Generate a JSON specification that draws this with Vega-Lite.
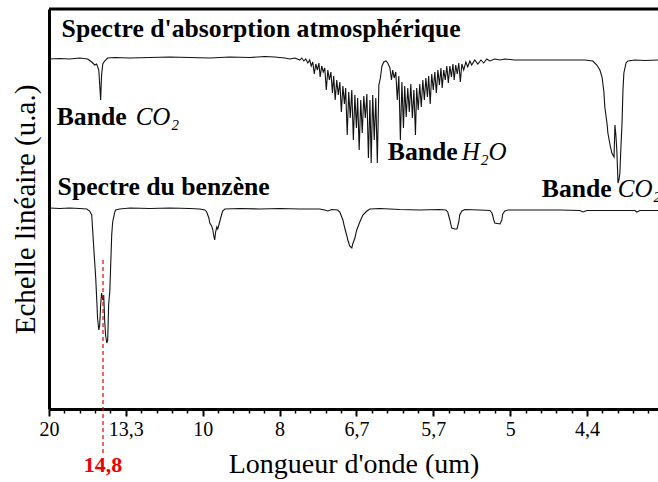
{
  "$schema": "https://vega.github.io/schema/vega-lite/v6.json",
  "width": 609,
  "height": 400,
  "autosize": {"type": "none"},
  "padding": {"left": 49, "top": 9, "right": 0, "bottom": 73},
  "background": "white",
  "config": {"view": {"stroke": null}, "font": "Liberation Serif, Times New Roman, serif"},
  "datasets": {
    "atm": [
      {"wn":502,"val":350},{"wn":535,"val":350.5},{"wn":567,"val":350},{"wn":600,"val":351},{"wn":626,"val":350},{"wn":639,"val":347},{"wn":649,"val":344},{"wn":655,"val":345},{"wn":662,"val":339},{"wn":665,"val":324},{"wn":668,"val":309},{"wn":671,"val":334},{"wn":675,"val":345},{"wn":681,"val":348},{"wn":691,"val":351},{"wn":714,"val":351.5},{"wn":763,"val":351},{"wn":828,"val":351.5},{"wn":893,"val":352},{"wn":958,"val":351.5},{"wn":1023,"val":351},{"wn":1088,"val":352},{"wn":1153,"val":351.5},{"wn":1202,"val":352.5},{"wn":1234,"val":352},{"wn":1267,"val":351},{"wn":1283,"val":350},{"wn":1300,"val":351},
      {"wn":1316,"val":349},{"wn":1322,"val":351},{"wn":1329,"val":348},{"wn":1335,"val":350},{"wn":1342,"val":346},{"wn":1348,"val":349},{"wn":1353,"val":343},{"wn":1358,"val":347},{"wn":1363,"val":335},{"wn":1368,"val":345},{"wn":1373,"val":339},{"wn":1378,"val":346},{"wn":1382,"val":332},{"wn":1387,"val":343},{"wn":1392,"val":337},{"wn":1397,"val":341},{"wn":1402,"val":319},{"wn":1407,"val":339},{"wn":1412,"val":329},{"wn":1417,"val":337},{"wn":1422,"val":316},{"wn":1426,"val":333},{"wn":1431,"val":309},{"wn":1436,"val":329},{"wn":1441,"val":314},{"wn":1446,"val":327},{"wn":1451,"val":297},{"wn":1456,"val":323},{"wn":1461,"val":305},{"wn":1465,"val":321},{"wn":1470,"val":274},{"wn":1475,"val":317},{"wn":1480,"val":291},{"wn":1485,"val":319},{"wn":1490,"val":269},{"wn":1495,"val":314},{"wn":1500,"val":281},{"wn":1504,"val":311},{"wn":1509,"val":259},{"wn":1514,"val":309},{"wn":1519,"val":276},{"wn":1524,"val":313},{"wn":1529,"val":291},{"wn":1534,"val":315},{"wn":1539,"val":251},{"wn":1544,"val":309},{"wn":1548,"val":246},{"wn":1553,"val":314},{"wn":1558,"val":269},{"wn":1563,"val":311},{"wn":1568,"val":246},{"wn":1573,"val":324},{"wn":1578,"val":331},{"wn":1583,"val":343},{"wn":1589,"val":347},{"wn":1596,"val":348},{"wn":1602,"val":346},{"wn":1609,"val":341},{"wn":1614,"val":329},{"wn":1618,"val":339},{"wn":1623,"val":331},{"wn":1628,"val":337},{"wn":1633,"val":309},{"wn":1638,"val":333},{"wn":1643,"val":269},{"wn":1648,"val":327},{"wn":1653,"val":281},{"wn":1657,"val":323},{"wn":1662,"val":292},{"wn":1667,"val":321},{"wn":1672,"val":297},{"wn":1677,"val":325},{"wn":1682,"val":291},{"wn":1687,"val":319},{"wn":1692,"val":274},{"wn":1696,"val":321},{"wn":1701,"val":299},{"wn":1706,"val":325},{"wn":1711,"val":302},{"wn":1716,"val":329},{"wn":1721,"val":309},{"wn":1726,"val":331},{"wn":1731,"val":312},{"wn":1735,"val":333},{"wn":1740,"val":305},{"wn":1745,"val":335},{"wn":1750,"val":319},{"wn":1755,"val":337},{"wn":1760,"val":316},{"wn":1765,"val":339},{"wn":1770,"val":324},{"wn":1775,"val":341},{"wn":1779,"val":321},{"wn":1784,"val":339},{"wn":1789,"val":329},{"wn":1794,"val":343},{"wn":1799,"val":326},{"wn":1804,"val":343},{"wn":1809,"val":332},{"wn":1814,"val":345},{"wn":1818,"val":329},{"wn":1823,"val":344},{"wn":1828,"val":335},{"wn":1833,"val":346},{"wn":1838,"val":327},{"wn":1843,"val":345},{"wn":1849,"val":339},{"wn":1856,"val":347},{"wn":1862,"val":342},{"wn":1869,"val":348},{"wn":1875,"val":344},{"wn":1885,"val":349},{"wn":1895,"val":345},{"wn":1905,"val":349},{"wn":1914,"val":346},{"wn":1924,"val":350},{"wn":1934,"val":348},{"wn":1950,"val":350},{"wn":1967,"val":349},{"wn":1983,"val":350},
      {"wn":2015,"val":349},{"wn":2064,"val":349},{"wn":2129,"val":349},{"wn":2194,"val":349},{"wn":2243,"val":349},{"wn":2269,"val":348},{"wn":2282,"val":344},{"wn":2292,"val":339},{"wn":2299,"val":332},{"wn":2305,"val":317},{"wn":2308,"val":302},{"wn":2315,"val":286},{"wn":2318,"val":276},{"wn":2325,"val":264},{"wn":2331,"val":256},{"wn":2338,"val":252},{"wn":2341,"val":284},{"wn":2344,"val":274},{"wn":2347,"val":259},{"wn":2351,"val":226},{"wn":2354,"val":229},{"wn":2357,"val":236},{"wn":2360,"val":259},{"wn":2364,"val":286},{"wn":2367,"val":319},{"wn":2370,"val":336},{"wn":2377,"val":346},{"wn":2383,"val":348},{"wn":2406,"val":349},{"wn":2438,"val":348.5},{"wn":2481,"val":349}
    ],
    "benz": [
      {"wn":502,"val":201},{"wn":535,"val":200.5},{"wn":567,"val":201},{"wn":600,"val":200.5},{"wn":623,"val":200},{"wn":632,"val":198},{"wn":639,"val":194},{"wn":642,"val":179},{"wn":645,"val":164},{"wn":652,"val":131},{"wn":658,"val":91},{"wn":662,"val":79},{"wn":665,"val":84},{"wn":668,"val":104},{"wn":671,"val":116},{"wn":675,"val":109},{"wn":678,"val":114},{"wn":681,"val":89},{"wn":684,"val":74},{"wn":688,"val":66},{"wn":691,"val":69},{"wn":694,"val":104},{"wn":698,"val":119},{"wn":701,"val":147},{"wn":704,"val":174},{"wn":707,"val":187},{"wn":714,"val":197},{"wn":717,"val":199},{"wn":730,"val":200},{"wn":763,"val":201},{"wn":828,"val":200.5},{"wn":893,"val":201},{"wn":958,"val":200.5},{"wn":990,"val":200},{"wn":1007,"val":199},{"wn":1013,"val":197},{"wn":1020,"val":191},{"wn":1023,"val":186},{"wn":1029,"val":183},{"wn":1033,"val":179},{"wn":1036,"val":173},{"wn":1039,"val":169},{"wn":1042,"val":177},{"wn":1046,"val":182},{"wn":1049,"val":180},{"wn":1055,"val":187},{"wn":1062,"val":195},{"wn":1065,"val":198},{"wn":1072,"val":200},{"wn":1121,"val":200.5},{"wn":1186,"val":200},{"wn":1251,"val":200.5},{"wn":1316,"val":200},{"wn":1380,"val":200},{"wn":1397,"val":199},{"wn":1407,"val":198},{"wn":1420,"val":199.5},{"wn":1439,"val":199},{"wn":1446,"val":197},{"wn":1456,"val":189},{"wn":1462,"val":181},{"wn":1469,"val":173},{"wn":1472,"val":169},{"wn":1478,"val":163},{"wn":1485,"val":161},{"wn":1488,"val":165},{"wn":1495,"val":171},{"wn":1501,"val":179},{"wn":1511,"val":187},{"wn":1521,"val":194},{"wn":1534,"val":198},{"wn":1544,"val":200},{"wn":1576,"val":200.5},{"wn":1641,"val":199.5},{"wn":1706,"val":199},{"wn":1771,"val":199.5},{"wn":1791,"val":199},{"wn":1797,"val":197},{"wn":1804,"val":189},{"wn":1810,"val":181},{"wn":1820,"val":180},{"wn":1827,"val":180},{"wn":1833,"val":187},{"wn":1836,"val":194},{"wn":1843,"val":198},{"wn":1853,"val":199.5},{"wn":1901,"val":199},{"wn":1934,"val":198.5},{"wn":1941,"val":196},{"wn":1947,"val":189},{"wn":1950,"val":186},{"wn":1967,"val":185},{"wn":1973,"val":189},{"wn":1976,"val":195},{"wn":1983,"val":198},{"wn":1993,"val":199},{"wn":2064,"val":199},{"wn":2162,"val":199},{"wn":2227,"val":198.5},{"wn":2237,"val":197},{"wn":2250,"val":198.5},{"wn":2325,"val":198.5},{"wn":2406,"val":198.5},{"wn":2412,"val":197},{"wn":2422,"val":198.5},{"wn":2481,"val":198.5}
    ],
    "etiquettes": [
      {"texte":"Spectre d'absorption atmosphérique","wn":541,"val":372,"type":"titre"},
      {"texte":"Bande","wn":525,"val":284,"type":"titre"},
      {"texte":"CO₂","wn":782,"val":284,"type":"formule"},
      {"texte":"Bande","wn":1602,"val":249,"type":"titre"},
      {"texte":"H₂O","wn":1843,"val":249,"type":"formule"},
      {"texte":"Spectre du benzène","wn":528,"val":214,"type":"titre"},
      {"texte":"Bande","wn":2103,"val":212,"type":"titre"},
      {"texte":"CO₂","wn":2350,"val":212,"type":"formule"}
    ],
    "repere": [
      {"wn":675.7,"val":149,"val2":-46}
    ],
    "repere_texte": [
      {"wn":675.7,"val":-63,"texte":"14,8"}
    ],
    "cadre": [
      {"wn":500,"wn2":2481,"val":400}
    ]
  },
  "encoding": {
    "x": {
      "field": "wn", "type": "quantitative",
      "scale": {"domain": [500, 2481], "nice": false, "zero": false},
      "axis": {
        "orient": "bottom",
        "values": [500,550,600,650,700,750,800,850,900,950,1000,1050,1100,1150,1200,1250,1300,1350,1400,1450,1500,1550,1600,1650,1700,1750,1800,1850,1900,1950,2000,2050,2100,2150,2200,2250,2300,2350,2400,2450,2500],
        "domain": true, "domainWidth": 3, "domainColor": "#000000",
        "ticks": true, "tickColor": "#000000",
        "tickSize": {"condition": {"test": "datum.value % 250 === 0", "value": 7}, "value": 4},
        "tickWidth": {"condition": {"test": "datum.value % 250 === 0", "value": 2}, "value": 1.5},
        "labelExpr": "datum.value === 500 ? '20' : datum.value === 750 ? '13,3' : datum.value === 1000 ? '10' : datum.value === 1250 ? '8' : datum.value === 1500 ? '6,7' : datum.value === 1750 ? '5,7' : datum.value === 2000 ? '5' : datum.value === 2250 ? '4,4' : datum.value === 2500 ? '4' : ''",
        "labelFont": "Liberation Serif, Times New Roman, serif", "labelFontSize": 20, "labelColor": "#000000",
        "labelPadding": 3, "labelOverlap": false, "labelFlush": false, "labelBound": false,
        "grid": false,
        "title": "Longueur d'onde (um)",
        "titleFont": "Liberation Serif, Times New Roman, serif", "titleFontSize": 28, "titleFontWeight": "normal", "titleColor": "#000000",
        "titleY": 63, "titleBaseline": "alphabetic"
      }
    },
    "y": {
      "field": "val", "type": "quantitative",
      "scale": {"domain": [0, 400], "nice": false, "zero": false},
      "axis": {
        "orient": "left",
        "domain": true, "domainWidth": 3, "domainColor": "#000000",
        "ticks": false, "labels": false, "grid": false,
        "title": "Echelle linéaire (u.a.)",
        "titleFont": "Liberation Serif, Times New Roman, serif", "titleFontSize": 29, "titleFontWeight": "normal", "titleColor": "#000000",
        "titlePadding": 9
      }
    }
  },
  "layer": [
    {
      "data": {"name": "atm"},
      "mark": {"type": "line", "color": "#111111", "strokeWidth": 1.1}
    },
    {
      "data": {"name": "benz"},
      "mark": {"type": "line", "color": "#111111", "strokeWidth": 1.1}
    },
    {
      "data": {"name": "cadre"},
      "mark": {"type": "rule", "color": "#000000", "strokeWidth": 3},
      "encoding": {
        "x2": {"field": "wn2"}
      }
    },
    {
      "data": {"name": "repere"},
      "mark": {"type": "rule", "color": "#ee0000", "strokeWidth": 1.2, "strokeDash": [4, 3]},
      "encoding": {
        "y2": {"field": "val2"}
      }
    },
    {
      "data": {"name": "repere_texte"},
      "mark": {"type": "text", "color": "#ee0000", "font": "Liberation Serif, Times New Roman, serif", "fontWeight": "bold", "fontSize": 22, "align": "center", "baseline": "alphabetic"},
      "encoding": {
        "text": {"field": "texte"}
      }
    },
    {
      "data": {"name": "etiquettes"},
      "transform": [{"filter": "datum.type === 'titre'"}],
      "mark": {"type": "text", "color": "#000000", "font": "Liberation Serif, Times New Roman, serif", "fontWeight": "bold", "fontSize": 25.7, "align": "left", "baseline": "alphabetic"},
      "encoding": {
        "text": {"field": "texte"}
      }
    },
    {
      "data": {"name": "etiquettes"},
      "transform": [{"filter": "datum.type === 'formule'"}],
      "mark": {"type": "text", "color": "#000000", "font": "Liberation Serif, Times New Roman, serif", "fontStyle": "italic", "fontSize": 25, "align": "left", "baseline": "alphabetic"},
      "encoding": {
        "text": {"field": "texte"}
      }
    }
  ]
}
